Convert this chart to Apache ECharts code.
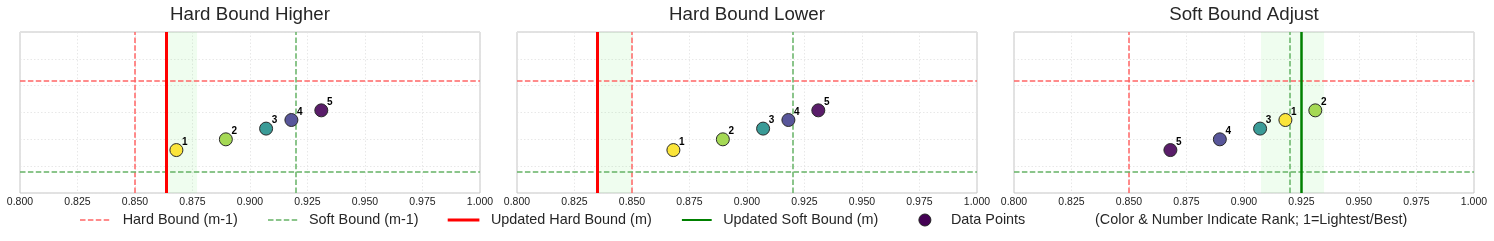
<!DOCTYPE html>
<html>
<head>
<meta charset="utf-8">
<script src="https://cdn.jsdelivr.net/npm/echarts@6/dist/echarts.min.js"></script>
<style>
html,body{margin:0;padding:0;background:#fff;}
#chart{width:1494px;height:241px;}
</style>
</head>
<body>
<div id="chart"></div>
<script>
// ---- data ----
const panelTitles = ['Hard Bound Higher', 'Hard Bound Lower', 'Soft Bound Adjust'];
const pointX = [0.868, 0.8895, 0.907, 0.918, 0.931];
const pointY = [1.6, 2.0, 2.4, 2.72, 3.08];
const pointRanks = [
  [1, 2, 3, 4, 5],
  [1, 2, 3, 4, 5],
  [5, 4, 3, 1, 2]
];
const prevHardX = 0.85;
const prevSoftX = 0.92;
const prevHardY = 4.2;
const prevSoftY = 0.8;
const updatedHardX = [0.8635, 0.835, null];
const updatedSoftX = [null, null, 0.9247];
const bandLow = [0.8635, 0.835, 0.9074];
const bandHigh = [0.877, 0.85, 0.9348];
const xMin = 0.8, xMax = 1.0, xStep = 0.025;
const legendLabels = ['Hard Bound (m-1)', 'Soft Bound (m-1)', 'Updated Hard Bound (m)', 'Updated Soft Bound (m)', 'Data Points', '(Color & Number Indicate Rank; 1=Lightest/Best)'];
const rankColors = ['#fbe53a', '#a5d955', '#3a9b97', '#58569a', '#5a1d6a'];

// ---- layout / style ----
const FONT = '"Liberation Sans", Arial, sans-serif';
const gridLefts = [20, 517, 1014];
const gridW = 460, gridTop = 32, gridH = 161;
const RED_DASH = '#ff6666', GREEN_DASH = '#66b366';
const DASH = [5.5, 2.4];

const grids = [], xAxes = [], yAxes = [], series = [], graphics = [];

function refLine(i, data, color, width, type, z) {
  return {type: 'scatter', xAxisIndex: i, yAxisIndex: i, data: [], z: z, silent: true,
    markLine: {silent: true, precision: 6, symbol: ['none', 'none'], label: {show: false}, animation: false,
      lineStyle: {color: color, width: width, type: type, opacity: 1},
      emphasis: {disabled: true},
      data: data}};
}

panelTitles.forEach((t, i) => {
  grids.push({left: gridLefts[i], top: gridTop, width: gridW, height: gridH,
    show: true, borderColor: '#c4c4c4', borderWidth: 1, backgroundColor: 'transparent'});
  xAxes.push({type: 'value', gridIndex: i, min: xMin, max: xMax, interval: xStep,
    axisLine: {show: false}, axisTick: {show: false},
    axisLabel: {show: true, margin: 4, fontFamily: FONT, fontSize: 10.5, color: '#222',
      formatter: v => v.toFixed(3), showMinLabel: true, showMaxLabel: true},
    splitLine: {show: true, lineStyle: {type: [1.5, 2], color: '#e2e2e2', width: 0.8}}});
  yAxes.push({type: 'value', gridIndex: i, min: 0, max: 6, interval: 1,
    axisLine: {show: false}, axisTick: {show: false}, axisLabel: {show: false},
    splitLine: {show: true, lineStyle: {type: [1.5, 2], color: '#e2e2e2', width: 0.8}}});

  // band
  series.push({type: 'scatter', xAxisIndex: i, yAxisIndex: i, data: [], z: 1, silent: true,
    markArea: {silent: true, precision: 6, itemStyle: {color: 'rgba(144,238,144,0.14)'},
      data: [[{xAxis: bandLow[i]}, {xAxis: bandHigh[i]}]]}});
  series.push(refLine(i, [{xAxis: prevHardX}, {yAxis: prevHardY}], RED_DASH, 1.5, DASH, 2));
  series.push(refLine(i, [{xAxis: prevSoftX}, {yAxis: prevSoftY}], GREEN_DASH, 1.5, DASH, 2));
  if (updatedHardX[i] !== null) {
    series.push(refLine(i, [{xAxis: updatedHardX[i]}], '#ff0000', 3, 'solid', 3));
  }
  if (updatedSoftX[i] !== null) {
    series.push(refLine(i, [{xAxis: updatedSoftX[i]}], '#008000', 2.5, 'solid', 3));
  }
  // points
  series.push({type: 'scatter', xAxisIndex: i, yAxisIndex: i, z: 5,
    symbol: 'circle', symbolSize: 13,
    data: pointX.map((x, k) => ({
      value: [x, pointY[k], pointRanks[i][k]],
      itemStyle: {color: rankColors[pointRanks[i][k] - 1], borderColor: '#2a2a2a', borderWidth: 1, opacity: 1}
    })),
    label: {show: true, position: 'inside', offset: [8.5, -8], formatter: p => String(p.value[2]),
      fontFamily: FONT, fontSize: 10, fontWeight: 'bold', color: '#000', opacity: 1}
  });

  // title
  graphics.push({type: 'text', x: gridLefts[i] + gridW / 2, y: 14.5,
    style: {text: t, font: '18.7px ' + FONT, fill: '#262626', textAlign: 'center', textVerticalAlign: 'middle'}});
});

// ---- legend ----
const LY = 220;
const LFONT = '14.4px ' + FONT;
function legText(x, s) {
  graphics.push({type: 'text', x: x, y: LY, style: {text: s, font: LFONT, fill: '#262626', textAlign: 'left', textVerticalAlign: 'middle'}});
}
graphics.push({type: 'line', shape: {x1: 80, y1: LY, x2: 110.7, y2: LY}, style: {stroke: RED_DASH, lineWidth: 1.5, lineDash: DASH}});
legText(122.7, legendLabels[0]);
graphics.push({type: 'line', shape: {x1: 268, y1: LY, x2: 297.7, y2: LY}, style: {stroke: GREEN_DASH, lineWidth: 1.5, lineDash: DASH}});
legText(309, legendLabels[1]);
graphics.push({type: 'line', shape: {x1: 447.7, y1: LY, x2: 479.4, y2: LY}, style: {stroke: '#ff0000', lineWidth: 3}});
legText(490.9, legendLabels[2]);
graphics.push({type: 'line', shape: {x1: 681.9, y1: LY, x2: 711.7, y2: LY}, style: {stroke: '#008000', lineWidth: 2}});
legText(723.2, legendLabels[3]);
graphics.push({type: 'circle', shape: {cx: 924.9, cy: LY, r: 6}, style: {fill: '#440154', stroke: '#222', lineWidth: 1}});
legText(950.9, legendLabels[4]);
legText(1095, legendLabels[5]);

const chart = echarts.init(document.getElementById('chart'), null, {renderer: 'canvas'});
chart.setOption({
  animation: false,
  backgroundColor: '#ffffff',
  grid: grids,
  xAxis: xAxes,
  yAxis: yAxes,
  series: series,
  graphic: graphics
});
</script>
</body>
</html>
